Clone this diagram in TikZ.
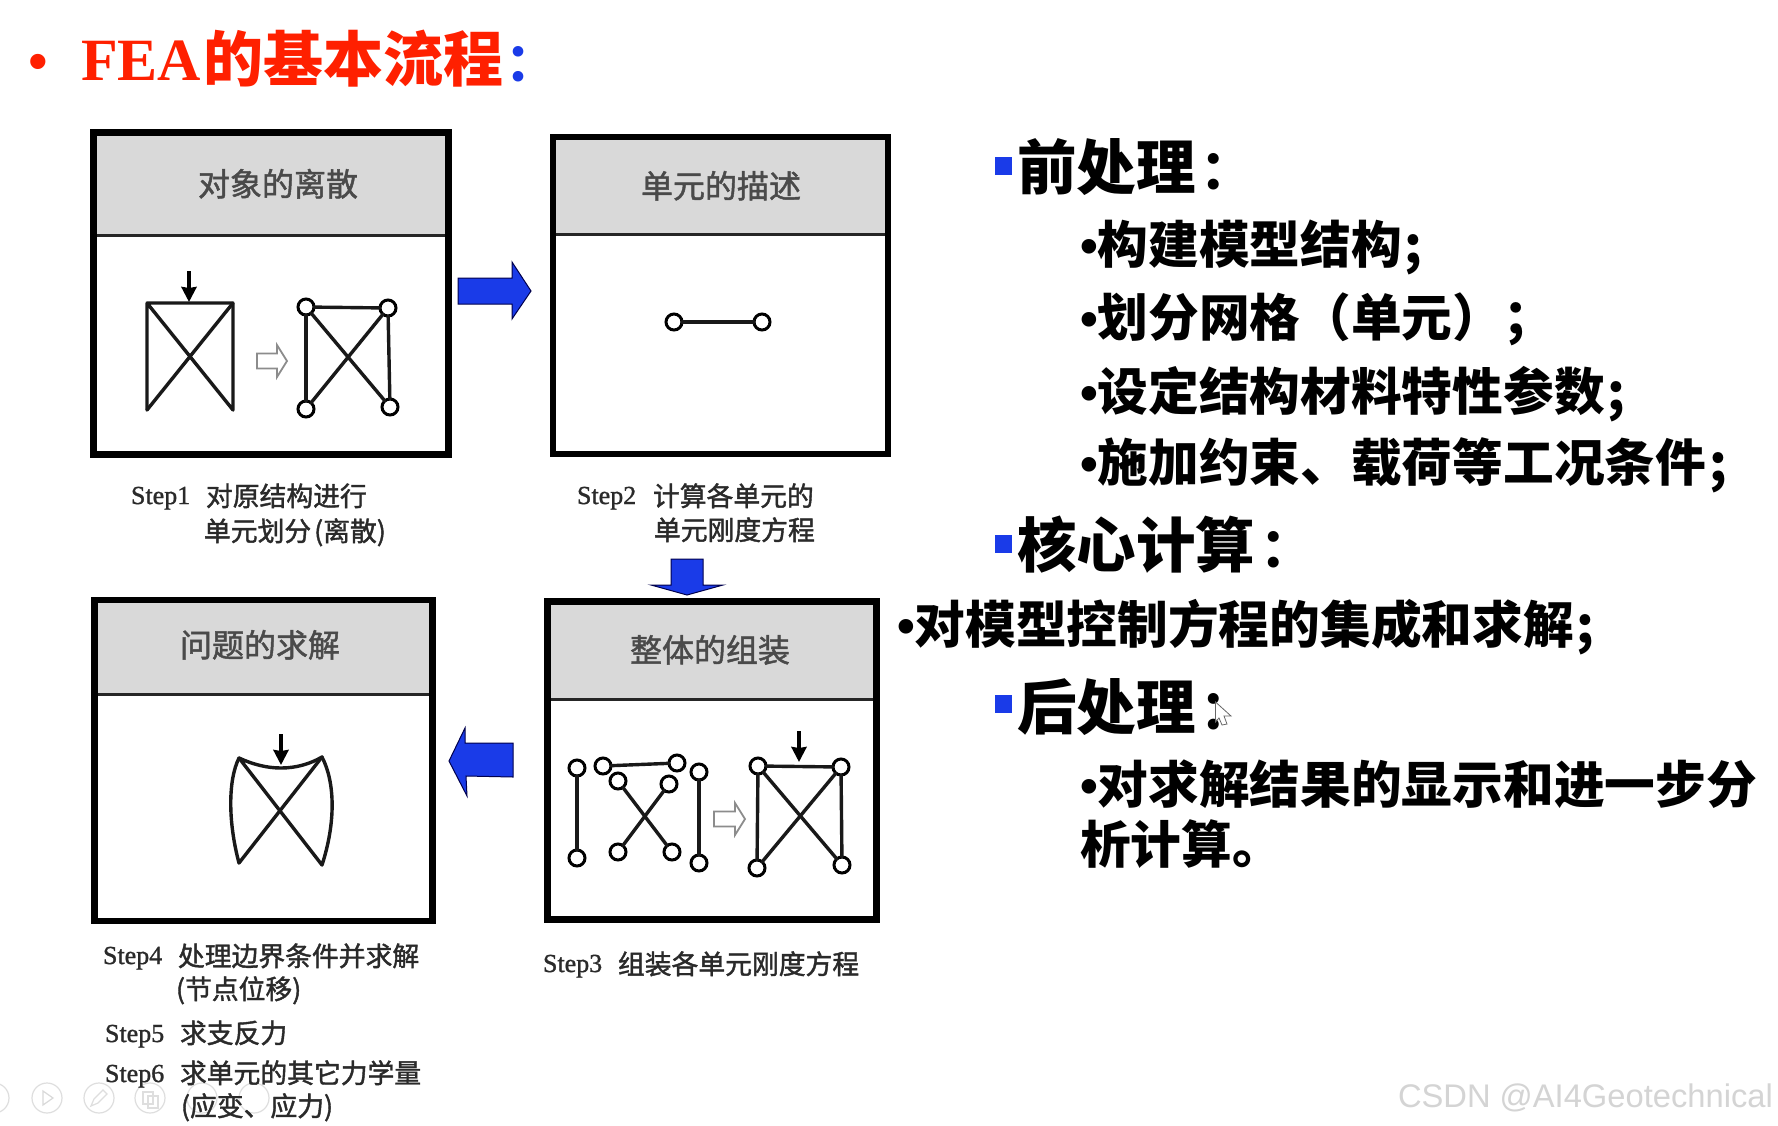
\documentclass[tikz,border=0pt]{standalone}
\usepackage{fontspec}
\usetikzlibrary{arrows.meta}
\setmainfont{Liberation Serif}
\newfontfamily\cjk{Noto Sans CJK SC}
\newfontfamily\cjkm[FakeBold=1.5]{Noto Sans CJK SC}
\newfontfamily\serm[FakeBold=1.2]{Liberation Serif}
\newfontfamily\lsans{Liberation Sans}
\newfontfamily\lato{Lato}
\newcommand{\fsz}[1]{\fontsize{#1}{#1}\selectfont}
\definecolor{hdr}{HTML}{D9D9D9}
\definecolor{bblue}{HTML}{1A3BE8}
\definecolor{rred}{HTML}{FF2000}
\definecolor{dark}{HTML}{2A2A2A}
\tikzset{
  txt/.style={inner sep=0pt,outer sep=0pt,anchor=base west},
  panelbox/.style={draw=black,line width=6.5pt,inner sep=0pt,outer sep=0pt,rectangle},
  hdrline/.style={draw=black!85,line width=3pt},
  paneltitle/.style={txt,font=\cjkm\fsz{32},text=dark!85},
  steptag/.style={txt,font=\serm\fsz{26},text=dark},
  steptext/.style={txt,font=\cjkm\fsz{26.8},text=dark},
  head/.style={txt,font=\cjk\bfseries\fsz{59.5}},
  item/.style={txt,font=\cjk\bfseries\fsz{50.7}},
  sqbul/.style={rectangle,fill=bblue,inner sep=0pt,outer sep=0pt,minimum width=17pt,minimum height=18pt},
  meshnode/.style={circle,draw=black,line width=3pt,fill=white,inner sep=0pt,outer sep=0pt,minimum size=16pt},
  meshline/.style={line width=3.4pt,draw=black!90,line cap=round,line join=round},
  force/.style={line width=3.6pt,-{Stealth[length=15pt,width=15pt,inset=1pt]}},
  hollow/.style={draw=black!45,line width=1.8pt,fill=white,line join=miter},
  bluearrow/.style={fill=bblue,draw=black!70!blue,line width=1pt,line join=miter},
  toolring/.style={circle,draw=black!13,line width=1.2pt,inner sep=0pt,minimum size=30pt},
}
\newcommand{\hollowarrow}[4]{\draw[hollow] (#1,{#4-7.5}) -- (#2,{#4-7.5}) -- (#2,{#4-16}) -- (#3,#4) -- (#2,{#4+16}) -- (#2,{#4+7.5}) -- (#1,{#4+7.5}) -- cycle;}
\newcommand{\hcol}{\hspace{9pt}{\lato\bfseries\fsz{72}:}}
\begin{document}
\begin{tikzpicture}[x=1pt,y=-1pt]
\useasboundingbox[fill=white] (0,0) rectangle (1778,1125);

% ---- faint player toolbar
\node[toolring] (t0) at (-6,1098) {};
\node[toolring] (t1) at (47,1098) {};
\node[toolring] (t2) at (99,1098) {};
\node[toolring] (t3) at (150,1098) {};
\node[toolring] (t4) at (202,1098) {};
\node[toolring] (t5) at (254,1098) {};
\draw[black!15,line width=1.2pt] (43,1091) -- (53,1098) -- (43,1105) -- cycle;
\draw[black!13,line width=1.2pt] (91,1106) -- (94,1099) -- (103,1090) -- (107,1094) -- (98,1103) -- cycle;
\draw[black!13,line width=1.2pt] (143,1092) rectangle (153,1104);
\draw[black!13,line width=1.2pt] (148,1096) rectangle (158,1108);

% ---- title
\node[txt,font=\lsans\fsz{56},text=rred] (tbul) at (28,80) {•};
\node[txt,font=\bfseries\fsz{60},text=rred] (tfea) at (81,80) {FEA};
\node[txt,font=\cjk\bfseries\fsz{60},text=rred] (tcjk) at (203,81) {的基本流程};
\node[txt,font=\lato\bfseries\fsz{70},text=bblue] (tcol) at (509,81) {:};

% ---- panel 1
\fill[hdr] (93.5,132.5) rectangle (448.5,235);
\draw[hdrline] (93.5,235) -- (448.5,235);
\node[panelbox,minimum width=355pt,minimum height=322pt] (b1) at (271,293.5) {};
\node[paneltitle] (b1t) at (198,196) {对象的离散};
\coordinate (p1a) at (147,303); \coordinate (p1b) at (233,303);
\coordinate (p1c) at (233,410); \coordinate (p1d) at (147,410);
\draw[meshline] (p1d) -- (p1a) -- (p1b) -- (p1c) -- (p1a);
\draw[meshline] (p1d) -- (p1b);
\coordinate (f1s) at (189,271); \coordinate (f1e) at (189,302);
\draw[force] (f1s) -- (f1e);
\hollowarrow{257}{277}{287}{361}
\node[meshnode] (n1a) at (306,307) {};
\node[meshnode] (n1b) at (388,308) {};
\node[meshnode] (n1c) at (306,409) {};
\node[meshnode] (n1d) at (390,407) {};
\draw[meshline] (n1a) -- (n1b);
\draw[meshline] (n1b) -- (n1d);
\draw[meshline] (n1a) -- (n1c);
\draw[meshline] (n1a) -- (n1d);
\draw[meshline] (n1c) -- (n1b);
\node[steptag] (s1) at (131,504) {Step1};
\node[steptext] (s1a) at (206,506) {对原结构进行};
\node[steptext] (s1b) at (204,541) {单元划分\hspace{3pt}(离散)};

% ---- panel 2
\fill[hdr] (552,136) rectangle (888.5,234);
\draw[hdrline] (552,234) -- (888.5,234);
\node[panelbox,minimum width=335pt,minimum height=317pt] (b2) at (720.5,295.5) {};
\node[paneltitle] (b2t) at (641,198) {单元的描述};
\node[meshnode] (n2a) at (674,322) {};
\node[meshnode] (n2b) at (762,322) {};
\draw[meshline] (n2a) -- (n2b);
\node[steptag] (s2) at (577,504) {Step2};
\node[steptext] (s2a) at (653,506) {计算各单元的};
\node[steptext] (s2b) at (654,540) {单元刚度方程};

% ---- panel 3
\fill[hdr] (547.5,601) rectangle (876.5,699);
\draw[hdrline] (547.5,699) -- (876.5,699);
\node[panelbox,minimum width=329pt,minimum height=318pt] (b3) at (712,760.5) {};
\node[paneltitle] (b3t) at (630,662) {整体的组装};
\node[meshnode] (n3a) at (577,768) {};
\node[meshnode] (n3b) at (577,858) {};
\draw[meshline] (n3a) -- (n3b);
\node[meshnode] (n3c) at (603,766) {};
\node[meshnode] (n3d) at (677,763) {};
\draw[meshline] (n3c) -- (n3d);
\node[meshnode] (n3e) at (618,781) {};
\node[meshnode] (n3f) at (672,852) {};
\draw[meshline] (n3e) -- (n3f);
\node[meshnode] (n3g) at (669,784) {};
\node[meshnode] (n3h) at (618,852) {};
\draw[meshline] (n3g) -- (n3h);
\node[meshnode] (n3i) at (699,772) {};
\node[meshnode] (n3j) at (699,863) {};
\draw[meshline] (n3i) -- (n3j);
\hollowarrow{714}{735}{745}{819}
\node[meshnode] (n3k) at (758,766) {};
\node[meshnode] (n3l) at (841,767) {};
\node[meshnode] (n3m) at (757,868) {};
\node[meshnode] (n3n) at (842,865) {};
\draw[meshline] (n3k) -- (n3l);
\draw[meshline] (n3l) -- (n3n);
\draw[meshline] (n3k) -- (n3m);
\draw[meshline] (n3k) -- (n3n);
\draw[meshline] (n3m) -- (n3l);
\coordinate (f3s) at (799,731); \coordinate (f3e) at (799,762);
\draw[force] (f3s) -- (f3e);
\node[steptag] (s3) at (543,972) {Step3};
\node[steptext] (s3a) at (618,974) {组装各单元刚度方程};

% ---- panel 4
\fill[hdr] (94.5,600) rectangle (432.5,694);
\draw[hdrline] (94.5,694) -- (432.5,694);
\node[panelbox,minimum width=338pt,minimum height=321pt] (b4) at (263.5,760.5) {};
\node[paneltitle] (b4t) at (180,657) {问题的求解};
\coordinate (q1) at (239,758); \coordinate (q2) at (322,757);
\coordinate (q3) at (322,865); \coordinate (q4) at (239,863);
\draw[meshline] (q1) .. controls (252,764) and (266,768) .. (281,768)
  .. controls (296,768) and (310,764) .. (q2)
  .. controls (335,782) and (336,822) .. (q3) -- (q1);
\draw[meshline] (q1) .. controls (228,780) and (228,822) .. (q4) -- (q2);
\coordinate (f4s) at (281,734); \coordinate (f4e) at (281,765);
\draw[force] (f4s) -- (f4e);
\node[steptag] (s4) at (103,964) {Step4};
\node[steptext] (s4a) at (178,966) {处理边界条件并求解};
\node[steptext] (s4b) at (176,999) {(节点位移)};
\node[steptag] (s5) at (105,1042) {Step5};
\node[steptext] (s5a) at (180,1043) {求支反力};
\node[steptag] (s6) at (105,1082) {Step6};
\node[steptext] (s6a) at (180,1083) {求单元的其它力学量};
\node[steptext] (s6b) at (181,1116) {(应变、应力)};

% ---- blue block arrows
\draw[bluearrow] (458,278) -- (512,278) -- (512,262) -- (531,291) -- (512,319) -- (512,304) -- (458,304) -- cycle;
\draw[bluearrow] (671,559) -- (703,559) -- (703,585) -- (723,585) -- (687,595) -- (651,585) -- (671,585) -- cycle;
\draw[bluearrow] (513,743) -- (465,743) -- (465,728) -- (449,761) -- (467,796) -- (466,776) -- (513,777) -- cycle;

% ---- right column
\node[sqbul] (q-a) at (1003.5,165.5) {};
\node[head] (ha) at (1017,189) {前处理\hcol};
\node[item] (i1) at (1080,263) {{\lsans •}构建模型结构\hspace{3pt};};
\node[item] (i2) at (1080,336) {{\lsans •}划分网格（单元）；};
\node[item] (i3) at (1080,410) {{\lsans •}设定结构材料特性参数\hspace{3pt};};
\node[item] (i4) at (1080,481) {{\lsans •}施加约束、载荷等工况条件\hspace{3pt};};
\node[sqbul] (q-b) at (1003.5,544) {};
\node[head] (hb) at (1017,567) {核心计算\hcol};
\node[item] (i5) at (897,643) {{\lsans •}对模型控制方程的集成和求解\hspace{3pt};};
\node[sqbul] (q-c) at (1003.5,704) {};
\node[head] (hc) at (1017,729) {后处理\hcol};
\node[item] (i6) at (1080,803) {{\lsans •}对求解结果的显示和进一步分};
\node[item] (i7) at (1080,863) {析计算。};

% ---- mouse pointer
\draw[black!60,line width=.8pt,fill=white,fill opacity=.4] (1215.5,702) -- (1231,716) -- (1224,716) -- (1227,724) -- (1222,725) -- (1219,718) -- (1215.5,722) -- cycle;

% ---- watermark
\node[txt,font=\lsans\fsz{32.7},text=black!17] (wm) at (1398,1107) {CSDN @AI4Geotechnical};
\end{tikzpicture}
\end{document}
